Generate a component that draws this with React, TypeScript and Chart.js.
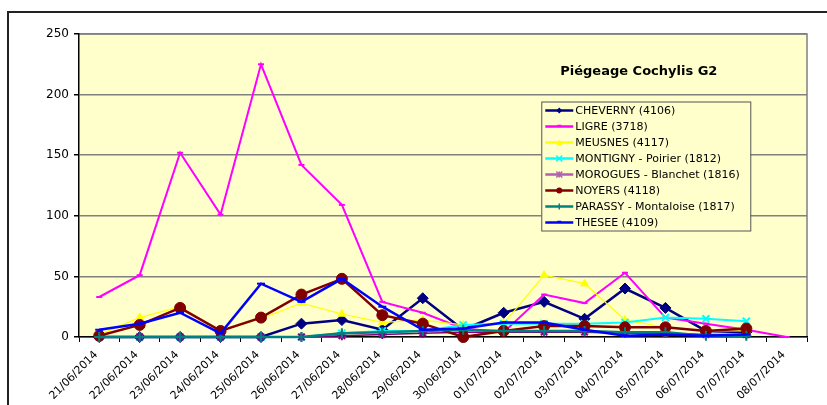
import React, { useEffect, useRef } from 'react';
import { Chart, registerables } from 'chart.js';
Chart.register(...registerables);

const categories = ['21/06/2014','22/06/2014','23/06/2014','24/06/2014','25/06/2014','26/06/2014','27/06/2014','28/06/2014','29/06/2014','30/06/2014','01/07/2014','02/07/2014','03/07/2014','04/07/2014','05/07/2014','06/07/2014','07/07/2014','08/07/2014'];
const cheverny = [0,0,0,0,0,11,14,6,32,6,20,29,15,40,24,5,4,null];
const ligre = [33,51,152,101,225,142,109,29,20,7,4,35,28,53,16,11,6,0];
const meusnes = [2,16,25,5,15,28,19,12,14,10,11,51,44,14,8,5,5,null];
const montigny = [0,0,0,0,0,0,3,5,5,10,11,11,11,12,16,15,13,null];
const morogues = [0,0,0,0,0,0,1,2,3,4,4,4,4,3,3,2,2,null];
const noyers = [1,10,24,5,16,35,48,18,11,0,5,9,9,8,8,5,7,null];
const parassy = [0,0,0,0,0,0,3,4,5,6,5,5,5,4,4,1,1,null];
const thesee = [6,11,20,3,44,29,48,25,6,7,12,12,6,1,2,1,2,null];
const yTicks = [0, 50, 100, 150, 200, 250];
const chartTitle = 'Piégeage Cochylis G2';

const FONT = '"DejaVu Sans", Verdana, sans-serif';

type S = { label: string; data: (number | null)[]; color: string; style: string; radius: number; width: number; legendColor?: string };
const series: S[] = [
  { label: 'CHEVERNY (4106)', data: cheverny, color: '#000080', style: 'rectRot', radius: 5.5, width: 2.5 },
  { label: 'LIGRE (3718)', data: ligre, color: '#FF00FF', style: 'line', radius: 3, width: 2 },
  { label: 'MEUSNES (4117)', data: meusnes, color: '#FFFF00', style: 'triangle', radius: 4.5, width: 1.2 },
  { label: 'MONTIGNY - Poirier (1812)', data: montigny, color: '#00FFFF', style: 'crossRot', radius: 5, width: 2 },
  { label: 'MOROGUES - Blanchet (1816)', data: morogues, color: '#800080', style: 'star', radius: 4.5, width: 1.5, legendColor: '#B060B0' },
  { label: 'NOYERS (4118)', data: noyers, color: '#800000', style: 'circle', radius: 5.5, width: 2.5 },
  { label: 'PARASSY - Montaloise (1817)', data: parassy, color: '#008080', style: 'cross', radius: 5, width: 2.5 },
  { label: 'THESEE (4109)', data: thesee, color: '#0000FF', style: 'line', radius: 4, width: 2.5 },
];

function drawMarker(ctx: CanvasRenderingContext2D, style: string, x: number, y: number, r: number, color: string) {
  ctx.save();
  ctx.fillStyle = color;
  ctx.strokeStyle = color;
  ctx.lineWidth = 1.5;
  ctx.beginPath();
  if (style === 'rectRot') {
    ctx.moveTo(x, y - r); ctx.lineTo(x + r, y); ctx.lineTo(x, y + r); ctx.lineTo(x - r, y); ctx.closePath(); ctx.fill();
  } else if (style === 'triangle') {
    ctx.moveTo(x, y - r); ctx.lineTo(x + r, y + r * 0.8); ctx.lineTo(x - r, y + r * 0.8); ctx.closePath(); ctx.fill();
  } else if (style === 'circle') {
    ctx.arc(x, y, r, 0, Math.PI * 2); ctx.fill();
  } else if (style === 'crossRot') {
    ctx.moveTo(x - r, y - r); ctx.lineTo(x + r, y + r); ctx.moveTo(x + r, y - r); ctx.lineTo(x - r, y + r); ctx.stroke();
  } else if (style === 'cross') {
    ctx.moveTo(x, y - r); ctx.lineTo(x, y + r); ctx.stroke();
  } else if (style === 'star') {
    ctx.moveTo(x - r, y - r); ctx.lineTo(x + r, y + r); ctx.moveTo(x + r, y - r); ctx.lineTo(x - r, y + r);
    ctx.moveTo(x, y - r); ctx.lineTo(x, y + r); ctx.stroke();
  } else if (style === 'line') {
    ctx.moveTo(x - r, y - 1); ctx.lineTo(x + r, y - 1); ctx.stroke();
  }
  ctx.restore();
}

const bgPlugin = {
  id: 'plotBg',
  beforeDraw(chart: any) {
    const { ctx, chartArea: a } = chart;
    ctx.save();
    ctx.fillStyle = '#FFFFCC';
    ctx.fillRect(a.left, a.top, a.right - a.left, a.bottom - a.top);
    ctx.strokeStyle = '#808080';
    ctx.lineWidth = 1.5;
    ctx.beginPath();
    ctx.moveTo(a.left, a.top);
    ctx.lineTo(a.right, a.top);
    ctx.lineTo(a.right, a.bottom);
    ctx.stroke();
    ctx.restore();
  },
  afterDraw(chart: any) {
    const { ctx, chartArea: a } = chart;
    const w = a.right - a.left;
    ctx.save();
    // x tick labels, rotated 45°
    const xs = chart.scales.x;
    ctx.font = `11px ${FONT}`;
    ctx.fillStyle = '#000';
    ctx.textAlign = 'right';
    ctx.textBaseline = 'middle';
    categories.forEach((lab, i) => {
      const px = xs.getPixelForTick(i);
      ctx.save();
      ctx.translate(px - 3, a.bottom + 16);
      ctx.rotate(-Math.PI / 4);
      ctx.fillText(lab, 0, 0);
      ctx.restore();
    });
    // title
    ctx.font = `bold 13px ${FONT}`;
    ctx.fillStyle = '#000';
    ctx.textAlign = 'center';
    ctx.textBaseline = 'middle';
    ctx.fillText(chartTitle, a.left + w * 0.769, a.top + 38);
    // legend
    const lx = a.left + w * 0.635;
    const ly = a.top + 67.5;
    const bw = 209;
    const rowH = 16;
    const bh = rowH * series.length + 1;
    ctx.fillStyle = '#FFFFCC';
    ctx.fillRect(lx, ly, bw, bh);
    ctx.strokeStyle = '#555';
    ctx.lineWidth = 1;
    ctx.strokeRect(lx + 0.5, ly + 0.5, bw, bh);
    ctx.font = `11px ${FONT}`;
    ctx.textAlign = 'left';
    series.forEach((s, i) => {
      const cy = ly + 9 + i * rowH;
      const c = s.legendColor || s.color;
      ctx.strokeStyle = c;
      ctx.lineWidth = 2.5;
      ctx.beginPath();
      ctx.moveTo(lx + 4, cy);
      ctx.lineTo(lx + 32, cy);
      ctx.stroke();
      drawMarker(ctx, s.style, lx + 18, cy, s.style === 'line' ? 2 : 3, c);
      ctx.fillStyle = '#000';
      ctx.fillText(s.label, lx + 34, cy + 0.5);
    });
    ctx.restore();
  },
};

export default function App() {
  const ref = useRef<HTMLCanvasElement | null>(null);
  useEffect(() => {
    if (!ref.current) return;
    const n = series.length;
    const chart = new Chart(ref.current, {
      type: 'line',
      data: {
        labels: categories,
        datasets: series.map((s, i) => ({
          label: s.label,
          data: s.data,
          borderColor: s.color,
          backgroundColor: s.color,
          borderWidth: s.width,
          pointStyle: s.style as any,
          pointRadius: s.radius,
          pointBorderWidth: s.style === 'crossRot' || s.style === 'cross' || s.style === 'star' || s.style === 'line' ? 2 : 1,
          pointBorderColor: s.color,
          pointBackgroundColor: s.color,
          tension: 0,
          spanGaps: false,
          clip: false as any,
          order: n - i,
        })),
      },
      options: {
        animation: false,
        responsive: false,
        maintainAspectRatio: false,
        layout: { padding: { left: 0, top: 34, right: 20, bottom: 0 } },
        plugins: { legend: { display: false }, tooltip: { enabled: false }, title: { display: false } },
        scales: {
          x: {
            type: 'category',
            offset: true,
            grid: { display: true, drawOnChartArea: false, drawTicks: true, tickLength: 5, offset: true, color: '#000', tickColor: '#000' },
            border: { display: true, color: '#000', width: 1.5 },
            ticks: { display: false, autoSkip: false },
            afterFit: (s: any) => { s.height = 68; },
          },
          y: {
            min: 0,
            max: 250,
            afterBuildTicks: (s: any) => { s.ticks = yTicks.map((v) => ({ value: v })); },
            grid: { color: '#808080', lineWidth: 1.5, tickLength: 5, tickColor: '#000', drawTicks: true },
            border: { display: true, color: '#000', width: 1.5 },
            ticks: { font: { family: FONT, size: 12 }, color: '#000', padding: 5 },
            afterFit: (s: any) => { s.width = 79; },
          },
        },
      },
      plugins: [bgPlugin],
    });
    return () => chart.destroy();
  }, []);
  return (
    <div style={{ position: 'fixed', inset: 0, overflow: 'hidden', background: '#fff' }}>
      <div style={{ position: 'absolute', left: 7, top: 11, width: 900, height: 500, borderLeft: '2px solid #222', borderTop: '2px solid #222' }} />
      <canvas ref={ref} width={827} height={405} style={{ position: 'absolute', left: 0, top: 0, width: 827, height: 405 }} />
    </div>
  );
}
